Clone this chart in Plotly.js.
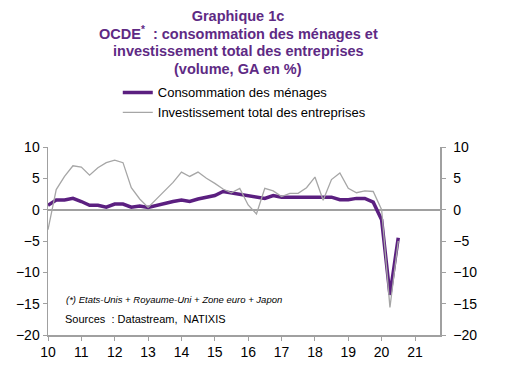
<!DOCTYPE html>
<html>
<head>
<meta charset="utf-8">
<script src="https://cdn.plot.ly/plotly-3.0.1.min.js"></script>
<style>html,body{margin:0;padding:0;background:#fff;}#chart{width:506px;height:366px;}</style>
</head>
<body>
<div id="chart"></div>
<script>
// Quarterly dates, 2010Q1 .. 2020Q3
const quarters = [
  "2010-01-01","2010-04-01","2010-07-01","2010-10-01",
  "2011-01-01","2011-04-01","2011-07-01","2011-10-01",
  "2012-01-01","2012-04-01","2012-07-01","2012-10-01",
  "2013-01-01","2013-04-01","2013-07-01","2013-10-01",
  "2014-01-01","2014-04-01","2014-07-01","2014-10-01",
  "2015-01-01","2015-04-01","2015-07-01","2015-10-01",
  "2016-01-01","2016-04-01","2016-07-01","2016-10-01",
  "2017-01-01","2017-04-01","2017-07-01","2017-10-01",
  "2018-01-01","2018-04-01","2018-07-01","2018-10-01",
  "2019-01-01","2019-04-01","2019-07-01","2019-10-01",
  "2020-01-01","2020-04-01","2020-07-01"
];
// Consommation des ménages (GA en %)
const consommation = [
  0.7, 1.55, 1.55, 1.8,
  1.3, 0.7, 0.7, 0.4,
  0.9, 0.9, 0.4, 0.6,
  0.37, 0.7, 1.1, 1.3,
  1.55, 1.3, 1.7, 2.0,
  2.25, 2.9, 2.7, 2.4,
  2.25, 2.1, 1.8, 2.25,
  2.0, 2.0, 2.0, 2.0,
  2.0, 2.0, 2.0, 1.6,
  1.6, 1.8, 1.8, 1.2,
  -1.6, -13.6, -4.5
];
// Investissement total des entreprises (GA en %)
const investissement = [
  -3.2, 3.2, 5.3, 7.0,
  6.8, 5.5, 6.7, 7.5,
  7.9, 7.5, 3.5, 1.7,
  0.37, 1.7, 3.0, 4.35,
  6.0, 5.3, 6.0, 5.0,
  4.2, 3.3, 2.7, 3.4,
  0.75, -0.7, 3.4, 3.0,
  2.1, 2.6, 2.6, 3.5,
  5.2, 1.5, 4.8, 5.85,
  3.4, 2.7, 3.0, 2.9,
  0.0, -15.6, -5.0
];
const seriesNames = ["Consommation des ménages", "Investissement total des entreprises"];
const yTicks = [-20, -15, -10, -5, 0, 5, 10];
const titleLines = [
  "Graphique 1c",
  "OCDE<sup>*</sup>  : consommation des ménages et",
  "investissement total des entreprises",
  "(volume, GA en %)"
];

const purple = "#5B1F80";
const titlePurple = "#5E2A84";
const grey = "#A6A6A6";
const axisGrey = "#A0A0A0";
const font = "Liberation Sans, Arial, sans-serif";
const titleFont = {family: font, size: 14.5, color: titlePurple};

const traces = [
  {x: quarters, y: consommation, name: seriesNames[0], type: "scatter", mode: "lines",
   line: {color: purple, width: 3.5}},
  {x: quarters, y: investissement, name: seriesNames[1], type: "scatter", mode: "lines",
   line: {color: grey, width: 1.3}},
  {x: quarters, y: investissement, yaxis: "y2", showlegend: false, hoverinfo: "skip",
   type: "scatter", mode: "lines", line: {color: "rgba(0,0,0,0)", width: 0}}
];

// title lines 2-4 as annotations (pixel-precise line spacing)
const titleY = [33, 51, 69];
const titleAnn = titleLines.slice(1).map((t, i) => ({
  text: "<b>" + t + "</b>", xref: "paper", yref: "paper",
  x: (238 - 48) / 392, y: 1 + (147 - titleY[i]) / 188,
  xanchor: "center", yanchor: "middle", showarrow: false, font: titleFont
}));

const layout = {
  width: 506, height: 366,
  margin: {l: 48, r: 66, t: 147, b: 31},
  paper_bgcolor: "#fff", plot_bgcolor: "#fff",
  font: {family: font, size: 14, color: "#000"},
  title: {
    text: "<b>" + titleLines[0] + "</b>",
    font: titleFont,
    x: (238 - 48) / 392, xref: "paper", xanchor: "center",
    y: 1 - 16 / 366, yref: "container", yanchor: "middle"
  },
  showlegend: true,
  legend: {
    x: 0.178, xanchor: "left", y: 1.37, yanchor: "top",
    font: {family: font, size: 13, color: "#000"},
    bgcolor: "rgba(0,0,0,0)", tracegroupgap: 0
  },
  xaxis: {
    type: "date",
    range: ["2010-01-01", "2021-10-01"],
    tickformat: "%y", dtick: "M12", tick0: "2010-01-01",
    ticks: "outside", ticklen: 4, tickcolor: axisGrey,
    showline: true, linecolor: axisGrey, linewidth: 1.5,
    showgrid: false, zeroline: false,
    tickfont: {family: font, size: 14, color: "#000"}
  },
  yaxis: {
    range: [-20, 10], tickvals: yTicks,
    ticks: "outside", ticklen: 4, tickcolor: axisGrey,
    showline: true, linecolor: axisGrey, linewidth: 1.5,
    showgrid: false, zeroline: true, zerolinecolor: axisGrey, zerolinewidth: 2,
    tickfont: {family: font, size: 14, color: "#000"}
  },
  yaxis2: {
    overlaying: "y", side: "right", range: [-20, 10], tickvals: yTicks,
    ticks: "outside", ticklen: 4, tickcolor: axisGrey, ticklabelstandoff: 5,
    showline: true, linecolor: axisGrey, linewidth: 1.5,
    showgrid: false, zeroline: false,
    tickfont: {family: font, size: 14, color: "#000"}
  },
  annotations: titleAnn.concat([
    {text: "<i>(*) Etats-Unis + Royaume-Uni + Zone euro + Japon</i>", xref: "paper", yref: "paper",
     x: 0.04, y: 0.19, xanchor: "left", yanchor: "middle", showarrow: false,
     font: {family: font, size: 9.5, color: "#000"}},
    {text: "Sources  : Datastream,  NATIXIS", xref: "paper", yref: "paper",
     x: 0.038, y: 0.085, xanchor: "left", yanchor: "middle", showarrow: false,
     font: {family: font, size: 11, color: "#000"}}
  ])
};

Plotly.newPlot("chart", traces, layout, {displayModeBar: false, staticPlot: true});
</script>
</body>
</html>
